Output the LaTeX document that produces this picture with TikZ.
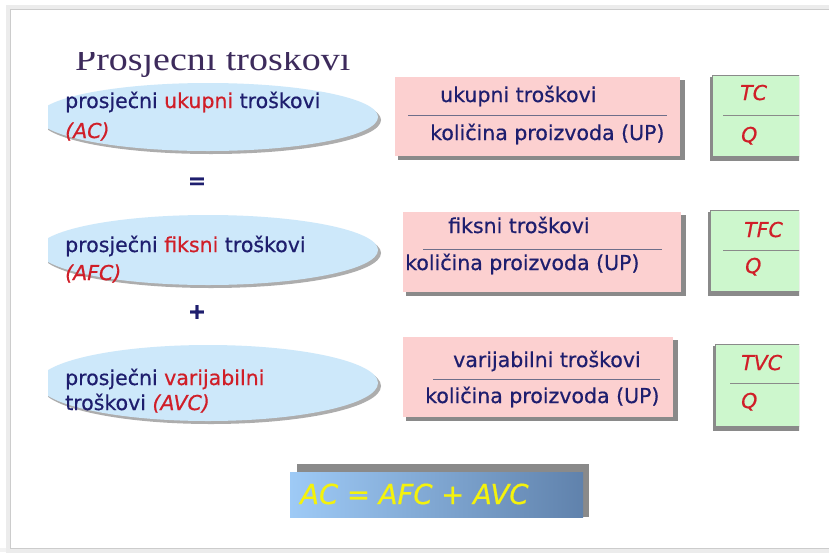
\documentclass[tikz,border=0pt]{standalone}
\usepackage{fontspec}
\setmainfont{DejaVu Sans}[FakeBold=0.6]
\newfontfamily\titlefont[FakeStretch=1.15]{Liberation Serif}
\usetikzlibrary{shapes.geometric}
\definecolor{navy}{HTML}{1E1E6E}
\definecolor{redtx}{HTML}{D01E28}
\definecolor{titlec}{HTML}{3D2B5C}
\definecolor{ellblue}{HTML}{CDE8FA}
\definecolor{pinkf}{HTML}{FCD0D0}
\definecolor{greenf}{HTML}{CDF7CD}
\definecolor{shadowc}{HTML}{8A8A8A}
\definecolor{fracline}{HTML}{6E6E8A}
\definecolor{yel}{HTML}{F4F20C}
\tikzset{
  txt/.style={anchor=base west, inner sep=0pt, text=navy, font=\fontsize{20.5}{24}\selectfont},
  rtxt/.style={anchor=base west, inner sep=0pt, text=redtx, font=\fontsize{20.5}{24}\selectfont\itshape},
  ell/.style={ellipse, fill=ellblue, minimum width=340pt, minimum height=68pt, inner sep=0pt},
  ellsh/.style={ellipse, fill=shadowc!70, minimum width=340pt, minimum height=68pt, inner sep=0pt},
  pinkbox/.style={anchor=north west, fill=pinkf, inner sep=0pt},
  greenbox/.style={anchor=north west, fill=greenf, draw=shadowc, line width=0.6pt, inner sep=0pt},
  boxsh/.style={anchor=north west, fill=shadowc, inner sep=0pt},
  frac/.style={draw=fracline, line width=0.8pt},
  sym/.style={inner sep=0pt, text=navy, font=\fontsize{22}{24}\selectfont\bfseries}
}
\begin{document}
\begin{tikzpicture}[x=1pt,y=-1pt]
\useasboundingbox (0,0) rectangle (829,552);
\fill[white] (0,0) rectangle (829,552);
% slide frame
\fill[gray!10] (0,548) rectangle (829,552);
\draw[gray!15, line width=5pt] (8,7) rectangle (840,550);
\draw[gray!40, line width=1pt] (10,9) rectangle (840,548);
% title (top clipped as in the picture)
\begin{scope}
\clip (0,52) rectangle (829,90);
\node[anchor=base west, inner sep=0pt, text=titlec, font=\titlefont\fontsize{33}{36}\selectfont] (title) at (75,70) {Prosječni troškovi};
\end{scope}
% ellipses
\begin{scope}
\clip (48,0) rectangle (829,552);
\node[ellsh] (e1s) at (211,120) {};
\node[ell] (e1) at (208,117) {};
\node[ellsh, minimum height=70pt] (e2s) at (211,253) {};
\node[ell, minimum height=70pt] (e2) at (208,250) {};
\node[ellsh, minimum height=76pt] (e3s) at (211,386) {};
\node[ell, minimum height=76pt] (e3) at (208,383) {};
\end{scope}
\node[txt] (e1a) at (65,108) {prosječni \textcolor{redtx}{ukupni} troškovi};
\node[rtxt] (e1b) at (65,138) {(AC)};
\node[txt] (e2a) at (65,252) {prosječni \textcolor{redtx}{fiksni} troškovi};
\node[rtxt] (e2b) at (65,280) {(AFC)};
\node[txt] (e3a) at (65,385) {prosječni \textcolor{redtx}{varijabilni}};
\node[txt] (e3b) at (65,410) {troškovi \textcolor{redtx}{\itshape (AVC)}};
\node[sym] (eq) at (197,183) {=};
\node[sym] (plus) at (197,312) {+};
% pink boxes
\node[boxsh, minimum width=287pt, minimum height=80pt] (p1s) at (398,80) {};
\node[pinkbox, minimum width=285pt, minimum height=79pt] (p1) at (395,77) {};
\node[txt] (p1a) at (440,102) {ukupni troškovi};
\coordinate (l1a) at (408,115); \coordinate (l1b) at (667,115);
\draw[frac] (l1a) -- (l1b);
\node[txt] (p1b) at (430,140) {količina proizvoda (UP)};

\node[boxsh, minimum width=280pt, minimum height=81pt] (p2s) at (406,215) {};
\node[pinkbox, minimum width=278pt, minimum height=80pt] (p2) at (403,212) {};
\node[txt] (p2a) at (448,233) {fiksni troškovi};
\coordinate (l2a) at (423,249); \coordinate (l2b) at (662,249);
\draw[frac] (l2a) -- (l2b);
\node[txt] (p2b) at (405,270) {količina proizvoda (UP)};

\node[boxsh, minimum width=272pt, minimum height=81pt] (p3s) at (406,340) {};
\node[pinkbox, minimum width=270pt, minimum height=80pt] (p3) at (403,337) {};
\node[txt] (p3a) at (453,367) {varijabilni troškovi};
\coordinate (l3a) at (433,379); \coordinate (l3b) at (660,379);
\draw[frac] (l3a) -- (l3b);
\node[txt] (p3b) at (425,403) {količina proizvoda (UP)};

% green boxes (cut at the right)
\begin{scope}
\clip (0,0) rectangle (799,552);
\node[boxsh, minimum width=100pt, minimum height=84pt] (g1s) at (710,77) {};
\node[greenbox, minimum width=100pt, minimum height=81pt] (g1) at (712,75) {};
\node[boxsh, minimum width=100pt, minimum height=84pt] (g2s) at (708,212) {};
\node[greenbox, minimum width=100pt, minimum height=81pt] (g2) at (710,210) {};
\node[boxsh, minimum width=100pt, minimum height=85pt] (g3s) at (713,346) {};
\node[greenbox, minimum width=100pt, minimum height=82pt] (g3) at (715,344) {};
\coordinate (m1a) at (723,115); \coordinate (m1b) at (800,115);
\coordinate (m2a) at (723,250); \coordinate (m2b) at (800,250);
\coordinate (m3a) at (730,383); \coordinate (m3b) at (800,383);
\draw[frac, draw=shadowc] (m1a) -- (m1b);
\draw[frac, draw=shadowc] (m2a) -- (m2b);
\draw[frac, draw=shadowc] (m3a) -- (m3b);
\end{scope}
\node[rtxt] (g1a) at (740,100) {TC};
\node[rtxt] (g1b) at (741,142) {Q};
\node[rtxt] (g2a) at (744,237) {TFC};
\node[rtxt] (g2b) at (745,273) {Q};
\node[rtxt] (g3a) at (741,370) {TVC};
\node[rtxt] (g3b) at (741,408) {Q};

% formula box
\fill[shadowc] (297,464) rectangle (589,517);
\shade[left color={rgb,255:red,158;green,202;blue,246}, right color={rgb,255:red,96;green,130;blue,172}] (290,472) rectangle (583,517);
\node[anchor=base west, inner sep=0pt, text=yel, font=\fontsize{27.5}{30}\selectfont\itshape] (form) at (300,504) {AC = AFC + AVC};
\end{tikzpicture}
\end{document}
